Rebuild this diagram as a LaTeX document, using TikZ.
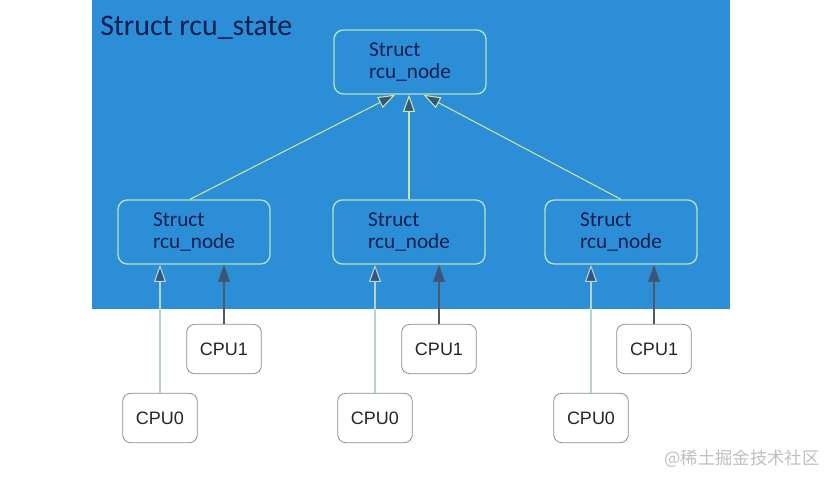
\documentclass[tikz,border=0pt]{standalone}
\usepackage{fontspec}
\setmainfont{Carlito}
\newfontfamily\cpufont{Liberation Sans}
\newfontfamily\cjkfont{Noto Sans CJK SC}
\usetikzlibrary{arrows.meta}

\definecolor{statebg}{RGB}{44,142,214}
\definecolor{navytext}{RGB}{16,30,80}
\definecolor{nodeedge}{RGB}{178,226,190}
\definecolor{linkline}{RGB}{205,230,150}
\definecolor{tipfill}{RGB}{50,84,135}
\definecolor{cpuzeroline}{RGB}{185,212,200}
\definecolor{cpuoneline}{RGB}{80,88,96}
\definecolor{cpuedge}{RGB}{140,140,140}

\tikzset{
  rcunode/.style={draw=nodeedge, line width=1pt, rounded corners=7pt,
    minimum width=114pt, minimum height=48pt, align=left, text=navytext,
    font=\fontsize{15.9}{16.1}\selectfont},
  cpubox/.style={draw=cpuedge, line width=0.6pt, rounded corners=6pt, fill=white,
    minimum width=56pt, minimum height=37pt, text=black!85,
    font=\cpufont\fontsize{13.5}{16}\selectfont},
  uplink/.style={-{Triangle[width=9pt,length=13pt,fill=tipfill]}, line width=0.8pt}
}

\begin{document}
\begin{tikzpicture}[x=0.75pt, y=-0.75pt]

\useasboundingbox (0,0) rectangle (838,484);

% Struct rcu_state
\fill[statebg] (92,0) rectangle (730,309);
\node[anchor=base west, text=navytext, font=\fontsize{22.4}{24}\selectfont, inner sep=0pt]
  (title) at (100,36) {Struct rcu\_state};

% rcu_node tree
\node[rcunode] (root) at (410,62) {Struct\\rcu\_node};
\node[rcunode] (ma) at (194,232) {Struct\\rcu\_node};
\node[rcunode] (mb) at (409,232) {Struct\\rcu\_node};
\node[rcunode] (mc) at (621,232) {Struct\\rcu\_node};

\draw[uplink, linkline] ([xshift=-3pt]ma.north) -- ([xshift=-11pt]root.south);
\draw[uplink, linkline] (mb.north) -- (mb.north |- root.south);
\draw[uplink, linkline] (mc.north) -- ([xshift=10pt]root.south);

% CPUs
\node[cpubox] (c1a) at (224,349) {CPU1};
\node[cpubox] (c1b) at (439,349) {CPU1};
\node[cpubox] (c1c) at (654,349) {CPU1};

\node[cpubox] (c0a) at (160,418) {CPU0};
\node[cpubox] (c0b) at (375,418) {CPU0};
\node[cpubox] (c0c) at (591,418) {CPU0};

\draw[uplink, cpuzeroline] (c0a.north) -- (c0a.north |- ma.south);
\draw[uplink, cpuzeroline] (c0b.north) -- (c0b.north |- mb.south);
\draw[uplink, cpuzeroline] (c0c.north) -- (c0c.north |- mc.south);

\draw[uplink, cpuoneline] (c1a.north) -- (c1a.north |- ma.south);
\draw[uplink, cpuoneline] (c1b.north) -- (c1b.north |- mb.south);
\draw[uplink, cpuoneline] (c1c.north) -- (c1c.north |- mc.south);

% watermark
\node[text=black!25, font=\cjkfont\fontsize{13}{15}\selectfont] (mark) at (742,459) {@稀土掘金技术社区};

\end{tikzpicture}
\end{document}
